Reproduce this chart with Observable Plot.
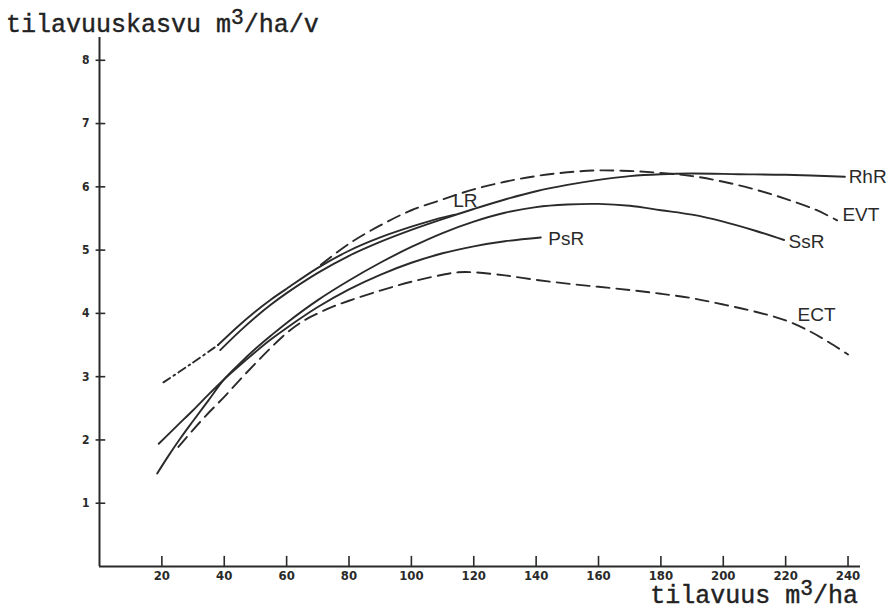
<!DOCTYPE html>
<html>
<head>
<meta charset="utf-8">
<script src="https://cdn.jsdelivr.net/npm/d3@7"></script>
<script src="https://cdn.jsdelivr.net/npm/@observablehq/plot@0.6"></script>
<style>
  body { margin: 0; background: #fff; }
  #wrap { position: relative; width: 892px; height: 611px; overflow: hidden; background: #fff; }
  #chart { position: absolute; left: 0; top: 0; }
  .t { position: absolute; font-family: "Liberation Mono", "DejaVu Sans Mono", monospace; font-size: 25px; color: #222; white-space: nowrap; line-height: 1; -webkit-text-stroke: 0.4px #222; }
  .t .sup { position: relative; top: -0.38em; font-size: 0.85em; }
</style>
</head>
<body>
<div id="wrap">
  <div id="chart"></div>
  <div class="t" id="ytitle" style="left:6px; top:13px;">tilavuuskasvu m<span class="sup">3</span>/ha/v</div>
  <div class="t" id="xtitle" style="right:34px; top:584px;">tilavuus m<span class="sup">3</span>/ha</div>
</div>
<script>
// ---- data (volume m3/ha -> volume increment m3/ha/yr) ----
const xTicks = [20, 40, 60, 80, 100, 120, 140, 160, 180, 200, 220, 240];
const yTicks = [1, 2, 3, 4, 5, 6, 7, 8];

const LR = [[38,3.50],[45,3.82],[50,4.03],[55,4.22],[60,4.39],[70,4.72],[80,4.99],[90,5.20],[100,5.37],[108,5.49],[114,5.56]];
const LR_ext = [[20.5,2.91],[29,3.19],[38,3.50]];
const RhR = [[38.7,3.42],[45,3.72],[50,3.94],[55,4.14],[60,4.32],[70,4.64],[80,4.91],[90,5.13],[100,5.32],[110,5.49],[120,5.65],[130,5.80],[140,5.93],[150,6.03],[160,6.11],[170,6.17],[180,6.20],[190,6.21],[205,6.20],[220,6.19],[239,6.16]];
const SsR = [[18.5,1.47],[22,1.74],[26,2.03],[30,2.30],[35,2.63],[40,2.96],[45,3.21],[50,3.44],[55,3.65],[60,3.85],[70,4.21],[80,4.52],[90,4.80],[100,5.05],[110,5.27],[120,5.45],[130,5.59],[140,5.68],[150,5.72],[160,5.73],[170,5.70],[180,5.63],[190,5.56],[200,5.45],[210,5.31],[219.5,5.16]];
const PsR = [[19,1.94],[25,2.23],[30,2.47],[35,2.72],[40,2.96],[45,3.18],[50,3.39],[55,3.59],[60,3.77],[70,4.10],[80,4.38],[90,4.61],[100,4.80],[110,4.95],[120,5.06],[130,5.14],[141.5,5.20]];
const EVT = [[71,4.77],[80,5.10],[90,5.39],[100,5.63],[110,5.80],[120,5.96],[130,6.08],[140,6.17],[150,6.23],[160,6.26],[170,6.25],[180,6.22],[190,6.17],[200,6.08],[210,5.96],[220,5.81],[230,5.63],[236.5,5.47]];
const ECT = [[25.3,1.89],[30,2.16],[35,2.43],[40,2.68],[45,2.95],[50,3.21],[55,3.46],[60,3.69],[65,3.87],[70,4.00],[75,4.11],[80,4.20],[90,4.36],[100,4.50],[110,4.61],[115,4.65],[120,4.65],[130,4.60],[140,4.53],[150,4.47],[160,4.42],[170,4.37],[180,4.31],[190,4.24],[200,4.14],[210,4.03],[220,3.89],[228,3.71],[234,3.54],[240,3.35]];

const labelNames = ["LR", "PsR", "SsR", "RhR", "EVT", "ECT"];
const labelX = [113.4, 143.9, 220.9, 240.2, 238.2, 223.8];
const labelY = [5.78, 5.17, 5.13, 6.16, 5.56, 3.97];

// ---- chart ----
const ink = "#2a2a2a";
const px = d => d[0], py = d => d[1];
const solid = {x: px, y: py, curve: "catmull-rom", stroke: ink, strokeWidth: 1.9};
const dashed = {...solid, strokeDasharray: "13,7"};

const chart = Plot.plot({
  width: 892,
  height: 611,
  marginLeft: 99,
  marginRight: 32,
  marginTop: 37,
  marginBottom: 45,
  x: {domain: [0, 244]},
  y: {domain: [0, 8.36]},
  style: {background: "white", color: ink, fontFamily: "'DejaVu Sans Condensed', 'Liberation Sans Narrow', sans-serif"},
  marks: [
    // axis lines
    Plot.ruleX([0], {y1: 0, y2: 8.36, stroke: ink, strokeWidth: 2}),
    Plot.ruleY([0], {x1: 0, x2: 244, stroke: ink, strokeWidth: 2}),
    // tick marks
    Plot.ruleY(yTicks, {y: d => d, x1: -1.1, x2: 2, stroke: ink, strokeWidth: 1.6}),
    Plot.ruleX(xTicks, {x: d => d, y1: 0, y2: 0.16, stroke: ink, strokeWidth: 1.6}),
    // tick labels
    Plot.axisY({ticks: yTicks, tickSize: 0, tickPadding: 10, fontSize: 12, fontWeight: "bold", fill: ink}),
    Plot.axisX({ticks: xTicks, tickSize: 0, tickPadding: 4, fontSize: 13, fontWeight: "bold", fill: ink}),
    // curves
    Plot.line(LR_ext, {...solid, strokeDasharray: "8,4,2,4"}),
    Plot.line(LR, solid),
    Plot.line(RhR, solid),
    Plot.line(SsR, solid),
    Plot.line(PsR, solid),
    Plot.line(EVT, dashed),
    Plot.line(ECT, dashed),
    // curve labels
    Plot.text(labelNames, {
      x: (d, i) => labelX[i], y: (d, i) => labelY[i], text: d => d,
      textAnchor: "start", fontSize: 19, fill: ink,
      fontFamily: "'Liberation Sans', Arial, sans-serif"
    })
  ]
});
document.getElementById("chart").append(chart);
</script>
</body>
</html>
